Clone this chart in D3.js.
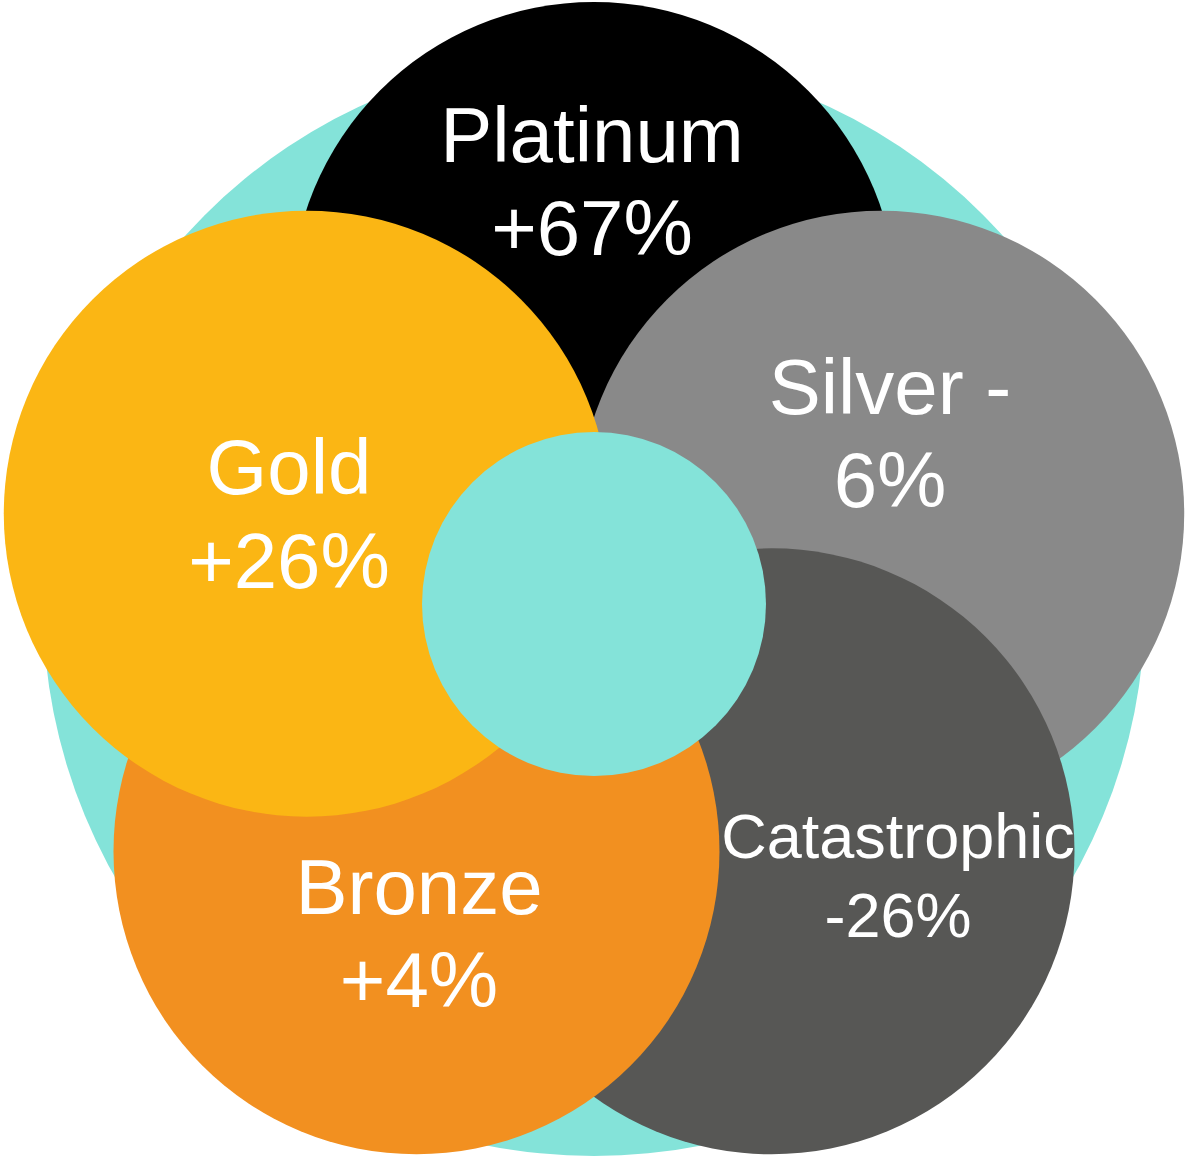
<!DOCTYPE html>
<html>
<head>
<meta charset="utf-8">
<script src="https://cdn.jsdelivr.net/npm/d3@7"></script>
<style>
  html, body { margin: 0; padding: 0; background: #ffffff; }
  svg { display: block; }
  text { font-family: "Liberation Sans", Arial, sans-serif; fill: #ffffff; }
</style>
</head>
<body>
<svg id="chart" width="1188" height="1158"></svg>
<script>
// ---- data ----
const categories = ["Platinum", "Silver", "Catastrophic", "Bronze", "Gold"];
const changes    = ["+67%", "-6%", "-26%", "+4%", "+26%"];
const labelLines = [
  ["Platinum", "+67%"],
  ["Silver -", "6%"],
  ["Catastrophic", "-26%"],
  ["Bronze", "+4%"],
  ["Gold", "+26%"]
];
const colors = ["#000000", "#898989", "#575755", "#F29020", "#FBB614"];
const teal = "#84E3D9";

// ---- layout ----
const cx = 594, cy = 604;          // inner circle centre
const pcx = 594, pcy = 607;        // petal ring centre
const outerR = 551, innerR = 172, ringR = 302, petalR = 303;
const angleScale = d3.scaleLinear().domain([0, categories.length]).range([-90, 270]);
const labelLayout = [
  { x: 592, y: 162, size: 78, lh: 93 },
  { x: 890, y: 414, size: 78, lh: 93 },
  { x: 898, y: 858, size: 63, lh: 79 },
  { x: 419, y: 914, size: 78, lh: 93 },
  { x: 289, y: 494, size: 78, lh: 94 }
];

const svg = d3.select("#chart");

svg.append("circle").attr("cx", cx).attr("cy", cy + 1).attr("r", outerR).attr("fill", teal);

const petals = categories.map((c, i) => {
  const a = angleScale(i) * Math.PI / 180;
  return { name: c, change: changes[i], color: colors[i],
           x: pcx + ringR * Math.cos(a), y: pcy + ringR * Math.sin(a) };
});

svg.selectAll("circle.petal").data(petals).join("circle")
  .attr("class", "petal")
  .attr("cx", d => d.x).attr("cy", d => d.y).attr("r", petalR)
  .attr("fill", d => d.color);

svg.append("circle").attr("cx", cx).attr("cy", cy).attr("r", innerR).attr("fill", teal);

const labels = svg.selectAll("text.lbl").data(petals).join("text")
  .attr("class", "lbl")
  .attr("text-anchor", "middle")
  .attr("x", (d, i) => labelLayout[i].x)
  .attr("y", (d, i) => labelLayout[i].y)
  .style("font-size", (d, i) => labelLayout[i].size + "px");

labels.each(function(d, i) {
  const L = labelLayout[i];
  d3.select(this).selectAll("tspan").data(labelLines[i]).join("tspan")
    .attr("x", L.x)
    .attr("y", (t, j) => L.y + j * L.lh)
    .text(t => t);
});
</script>
</body>
</html>
